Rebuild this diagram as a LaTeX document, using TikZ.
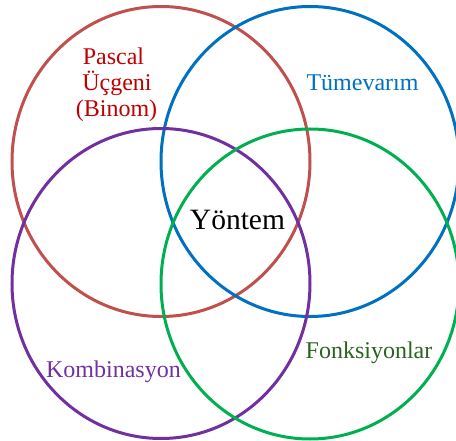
\documentclass[tikz,border=0pt]{standalone}
\usepackage{fontspec}
\setmainfont{Liberation Serif}
\definecolor{cred}{HTML}{C0504D}
\definecolor{cblue}{HTML}{0070C0}
\definecolor{cpurple}{HTML}{7030A0}
\definecolor{cgreen}{HTML}{00B050}
\definecolor{tred}{HTML}{C00000}
\definecolor{tgreen}{RGB}{40,100,30}
\tikzset{
  ring/.style={line width=3pt},
  lbl/.style={anchor=base, inner sep=0pt, font=\fontsize{24}{26}\selectfont},
}
\begin{document}
\begin{tikzpicture}[x=1pt,y=-1pt]
\useasboundingbox (0,0) rectangle (456,441);
\draw[ring, cred] (161,161.5) ellipse [x radius=149pt, y radius=155pt];
\draw[ring, cblue] (310,161.5) ellipse [x radius=149pt, y radius=155pt];
\draw[ring, cpurple] (161,283.5) ellipse [x radius=149pt, y radius=155pt];
\draw[ring, cgreen] (310,284) ellipse [x radius=149pt, y radius=155pt];
\node[lbl, tred] (p1) at (113.5,64.5) {Pascal};
\node[lbl, tred] (p2) at (117,90.5) {Üçgeni};
\node[lbl, tred] (p3) at (116.5,117) {(Binom)};
\node[lbl, cblue] (tum) at (362.5,90.5) {Tümevarım};
\node[lbl, cpurple] (kom) at (113.5,377.5) {Kombinasyon};
\node[lbl, tgreen] (fon) at (369,359) {Fonksiyonlar};
\node[anchor=base, inner sep=0pt, font=\fontsize{29.5}{32}\selectfont] (yon) at (237.5,229.5) {Yöntem};
\end{tikzpicture}
\end{document}
